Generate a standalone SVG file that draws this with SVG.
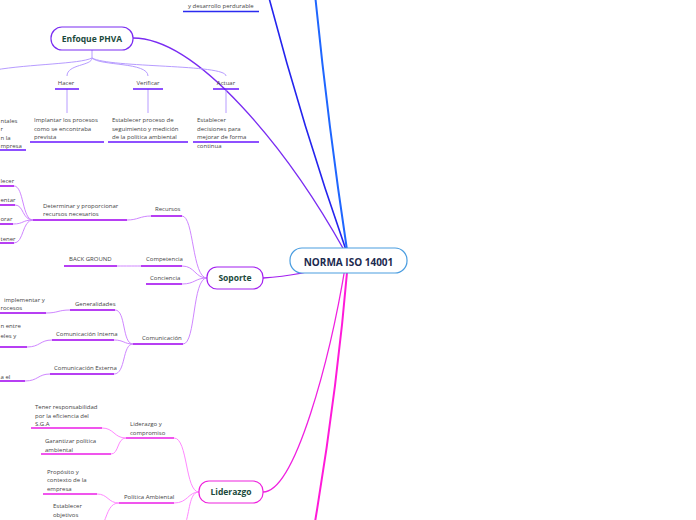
<svg xmlns="http://www.w3.org/2000/svg" width="696" height="520" viewBox="0 0 696 520">
<style>
.t{font-family:"Open Sans","Noto Sans","Liberation Sans",sans-serif;font-size:6px;fill:#444}
.n{font-family:"Open Sans","Noto Sans","Liberation Sans",sans-serif;font-weight:bold;fill:#1b4a3c;text-anchor:middle}
.c{fill:none}
.ph{stroke:#b79cff;stroke-width:1}
.phu{stroke:#6a17ff;stroke-width:1.6}
.so{stroke:#cf86ff;stroke-width:1}
.sou{stroke:#a000f0;stroke-width:1.6}
.li{stroke:#ff88ff;stroke-width:1}
.liu{stroke:#ec1ee8;stroke-width:1.6}
</style>
<rect width="696" height="520" fill="#fff"/>
<g id="connectors" class="c">
<path d="M268,-6 Q302,124 346,250" stroke="#2424ee" stroke-width="1.6"/>
<path d="M315,-6 Q328,124 347,250" stroke="#1f66ff" stroke-width="2"/>
<path d="M133,38 C197,38 287,148 344,250" stroke="#7a2cf2" stroke-width="1.3"/>
<path d="M263,278 Q300,276 346,262" stroke="#a21ff0" stroke-width="1.3"/>
<path d="M263,492 C295,492 330,360 346,262" stroke="#f020e0" stroke-width="1.3"/>
<path d="M348,262 Q337,391 315,522" stroke="#ff1ad9" stroke-width="2"/>
<line x1="183" y1="11.5" x2="259" y2="11.5" stroke="#2b2bf0" stroke-width="1.6"/>
<path class="ph" d="M92,50 L92,58"/>
<path class="ph" d="M92,58 C80,64 30,64 -5,70"/>
<path class="ph" d="M92,58 C92,66 67,64 67,76"/>
<path class="ph" d="M92,58 C100,66 148,62 148,76"/>
<path class="ph" d="M92,58 C110,68 226,64 226,76"/>
<path class="ph" d="M67,89 L67,113"/>
<path class="ph" d="M148,89 L148,113"/>
<path class="ph" d="M226,89 L226,113"/>
<path class="phu" d="M55,89 H79 M133,89 H163 M213,89 H239 M30,142 H104 M108,142 H188 M193,142 H259 M-2,150 H26"/>
<path class="so" d="M182,216 C194,216 192,278 207,278"/>
<path class="so" d="M182,266 C195,266 195,278 207,278"/>
<path class="so" d="M182,284 C195,284 195,278 207,278"/>
<path class="so" d="M183,344 C196,344 192,278 207,278"/>
<path class="so" d="M151,216 C140,216 138,220 127,220"/>
<path class="so" d="M33,220 C22,220 24,186 14,186"/>
<path class="so" d="M33,220 C22,220 24,205 15,205"/>
<path class="so" d="M33,220 C22,220 24,224 13,224"/>
<path class="so" d="M33,220 C22,220 24,243 14,243"/>
<path class="so" d="M117,266 C128,266 130,266 141,266"/>
<path class="so" d="M133,344 C122,344 126,310 115,310"/>
<path class="so" d="M133,344 C124,344 124,340 114,340"/>
<path class="so" d="M133,344 C122,344 126,374 114,374"/>
<path class="so" d="M70,310 C58,310 58,313 46,313"/>
<path class="so" d="M52,340 C40,340 40,347 27,347"/>
<path class="so" d="M50,374 C38,374 38,381 25,381"/>
<path class="sou" d="M151,216 H182 M33,220 H127 M-2,186 H14 M-2,205 H15 M-2,224 H13 M-2,243 H14 M141,266 H182 M64,266 H117 M146,284 H182 M133,344 H183 M70,310 H115 M52,340 H114 M50,374 H114 M-2,313 H46 M-2,347 H27 M-2,381 H25"/>
<path class="li" d="M174,438 C188,438 185,492 199,492"/>
<path class="li" d="M174,503 C188,503 188,492 199,492"/>
<path class="li" d="M199,492 C190,492 190,508 186,522"/>
<path class="li" d="M126,438 C114,438 114,428 102,428"/>
<path class="li" d="M126,438 C117,438 119,454 111,454"/>
<path class="li" d="M119,503 C108,503 108,494 97,494"/>
<path class="li" d="M119,503 C110,503 108,512 104,522"/>
<path class="liu" d="M126,438 H174 M119,503 H174 M31,428 H102 M41,454 H111 M43,494 H97"/>
</g>
<g id="central">
<rect x="290" y="248" width="117" height="25" rx="12" fill="#fff" stroke="#4a9de0" stroke-width="1.2"/>
<text class="n" x="348.5" y="265.5" font-size="10" style="fill:#1c2a4f">NORMA ISO 14001</text>
</g>
<g id="top-text">
<text class="t" x="188" y="8">y desarrollo perdurable</text>
</g>
<g id="phva">
<rect x="51" y="27" width="82" height="23" rx="11" fill="#fff" stroke="#7a2cf2" stroke-width="1.2"/>
<text class="n" x="92" y="42" font-size="8.5">Enfoque PHVA</text>
</g>
<g id="hacer"><text class="t" x="66" y="85" text-anchor="middle">Hacer</text></g>
<g id="verificar"><text class="t" x="148" y="85" text-anchor="middle">Verificar</text></g>
<g id="actuar"><text class="t" x="226" y="85" text-anchor="middle">Actuar</text></g>
<g id="planear-detalle">
<text class="t" x="0.5" y="123">ntales</text>
<text class="t" x="0.5" y="131">r</text>
<text class="t" x="0.5" y="139.5">n la</text>
<text class="t" x="0.5" y="148">mpresa</text>
</g>
<g id="hacer-detalle">
<text class="t" x="34" y="122">Implantar los procesos</text>
<text class="t" x="34" y="130.5">como se encontraba</text>
<text class="t" x="34" y="139">prevista</text>
</g>
<g id="verificar-detalle">
<text class="t" x="112" y="122">Establecer proceso de</text>
<text class="t" x="112" y="130.5">seguimiento y medición</text>
<text class="t" x="112" y="139">de la política ambiental</text>
</g>
<g id="actuar-detalle">
<text class="t" x="197" y="122">Establecer</text>
<text class="t" x="197" y="130.5">decisiones para</text>
<text class="t" x="197" y="139">mejorar de forma</text>
<text class="t" x="197" y="147.5">continua</text>
</g>
<g id="soporte">
<rect x="207" y="267" width="56" height="22" rx="10" fill="#fff" stroke="#a21ff0" stroke-width="1.2"/>
<text class="n" x="235" y="281" font-size="8.5">Soporte</text>
</g>
<g id="recursos"><text class="t" x="155" y="211">Recursos</text></g>
<g id="determinar">
<text class="t" x="43" y="208">Determinar y proporcionar</text>
<text class="t" x="43" y="216">recursos necesarios</text>
</g>
<g id="rec-1"><text class="t" x="0.5" y="183">lecer</text></g>
<g id="rec-2"><text class="t" x="0.5" y="202">entar</text></g>
<g id="rec-3"><text class="t" x="0.5" y="221">orar</text></g>
<g id="rec-4"><text class="t" x="0.5" y="240.5">tener</text></g>
<g id="competencia"><text class="t" x="146" y="261">Competencia</text></g>
<g id="background"><text class="t" x="69" y="261">BACK GROUND</text></g>
<g id="conciencia"><text class="t" x="150" y="280">Conciencia</text></g>
<g id="comunicacion"><text class="t" x="142" y="340">Comunicación</text></g>
<g id="generalidades"><text class="t" x="75" y="306">Generalidades</text></g>
<g id="gen-detalle">
<text class="t" x="4" y="302">implementar y</text>
<text class="t" x="0.5" y="310">rocesos</text>
</g>
<g id="com-interna"><text class="t" x="56" y="336">Comunicación Interna</text></g>
<g id="int-detalle">
<text class="t" x="0.5" y="328">n entre</text>
<text class="t" x="0.5" y="338">eles y</text>
</g>
<g id="com-externa"><text class="t" x="54" y="370">Comunicación Externa</text></g>
<g id="ext-detalle"><text class="t" x="0.5" y="379">a el</text></g>
<g id="liderazgo">
<rect x="199" y="481" width="64" height="22" rx="10" fill="#fff" stroke="#ee22dd" stroke-width="1.2"/>
<text class="n" x="231" y="495" font-size="8.5">Liderazgo</text>
</g>
<g id="lid-compromiso">
<text class="t" x="130" y="426">Liderazgo y</text>
<text class="t" x="130" y="434.5">compromiso</text>
</g>
<g id="responsabilidad">
<text class="t" x="35" y="409">Tener responsabilidad</text>
<text class="t" x="35" y="417.5">por la eficiencia del</text>
<text class="t" x="35" y="426">S.G.A</text>
</g>
<g id="garantizar">
<text class="t" x="45" y="443">Garantizar política</text>
<text class="t" x="45" y="451.5">ambiental</text>
</g>
<g id="politica"><text class="t" x="124" y="499">Política Ambiental</text></g>
<g id="proposito">
<text class="t" x="47" y="473.5">Propósito y</text>
<text class="t" x="47" y="482">contexto de la</text>
<text class="t" x="47" y="490.5">empresa</text>
</g>
<g id="objetivos">
<text class="t" x="53" y="508">Establecer</text>
<text class="t" x="53" y="517">objetivos</text>
</g>
</svg>
